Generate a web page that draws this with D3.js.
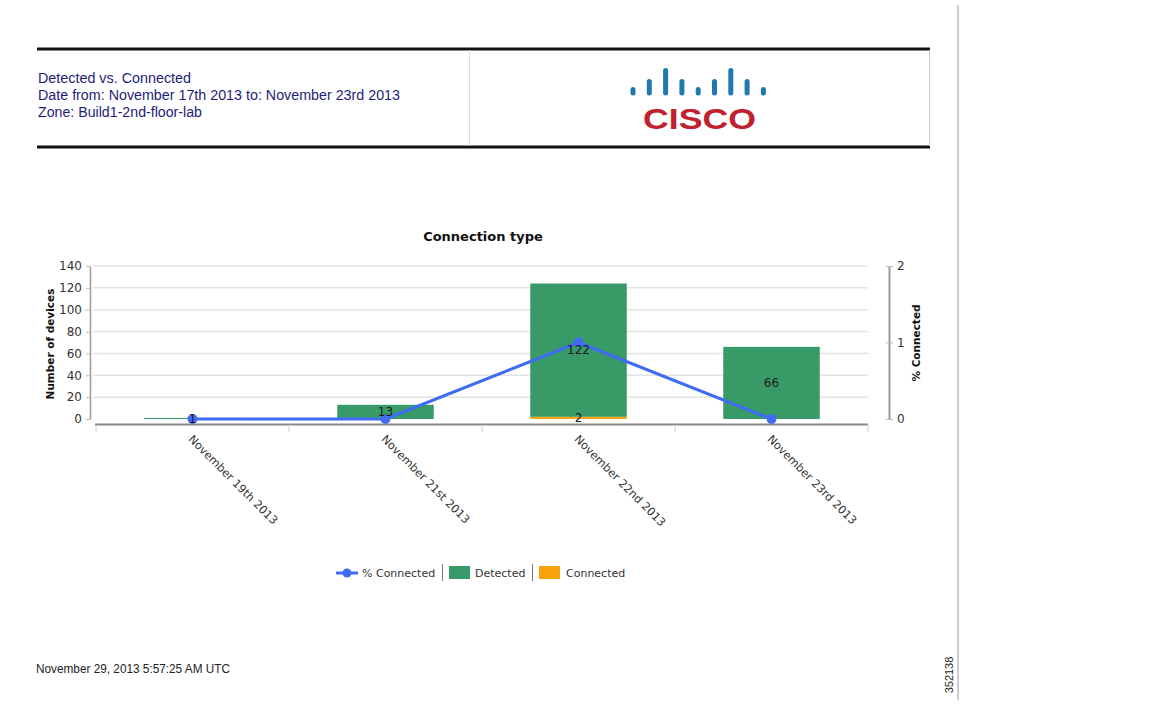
<!DOCTYPE html>
<html>
<head>
<meta charset="utf-8">
<script src="https://cdn.jsdelivr.net/npm/d3@7"></script>
<style>
  html, body { margin: 0; padding: 0; background: #fff; }
  svg { display: block; }
</style>
</head>
<body>
<svg id="chart" width="1163" height="726"></svg>
<script>
// ---- Data ----
const categories = ["November 19th 2013", "November 21st 2013", "November 22nd 2013", "November 23rd 2013"];
const detected = [1, 13, 122, 66];
const connected = [0, 0, 2, 0];
const pctConnected = [0, 0, 1, 0];
const leftTicks = [0, 20, 40, 60, 80, 100, 120, 140];
const rightTicks = [0, 1, 2];
const headerLines = ["Detected vs. Connected", "Date from: November 17th 2013 to: November 23rd 2013", "Zone: Build1-2nd-floor-lab"];
const footerText = "November 29, 2013 5:57:25 AM UTC";
const figureId = "352138";
const chartTitle = "Connection type";
const legendLabels = ["% Connected", "Detected", "Connected"];

// ---- Styles ----
const GREEN = "#389a67", ORANGE = "#f7a30a", BLUE = "#3f6cf2";
const CHART_FONT = "'DejaVu Sans', 'Lucida Grande', sans-serif";
const HDR_FONT = "'Liberation Sans', Arial, sans-serif";

const svg = d3.select("#chart");
svg.append("rect").attr("width", 1163).attr("height", 726).attr("fill", "#fff");

// ---- Page frame / header ----
svg.append("line").attr("x1", 958).attr("x2", 958).attr("y1", 5).attr("y2", 700).attr("stroke", "#9a9a9a").attr("stroke-width", 1);
svg.append("line").attr("x1", 37).attr("x2", 930).attr("y1", 49).attr("y2", 49).attr("stroke", "#111").attr("stroke-width", 3);
svg.append("line").attr("x1", 37).attr("x2", 930).attr("y1", 147).attr("y2", 147).attr("stroke", "#111").attr("stroke-width", 3);
svg.append("line").attr("x1", 469.5).attr("x2", 469.5).attr("y1", 50).attr("y2", 146).attr("stroke", "#ddd").attr("stroke-width", 1);
svg.append("line").attr("x1", 929.5).attr("x2", 929.5).attr("y1", 50).attr("y2", 146).attr("stroke", "#ccc").attr("stroke-width", 1);

const hdrWidths = [153, 362, 164];
svg.append("g").selectAll("text").data(headerLines).join("text")
  .attr("x", 38).attr("y", (d, i) => 83 + i * 17)
  .attr("font-family", HDR_FONT).attr("font-size", 14).attr("fill", "#1d1d78")
  .attr("textLength", (d, i) => hdrWidths[i]).attr("lengthAdjust", "spacingAndGlyphs")
  .text(d => d);

// Cisco logo
const logoBars = [0, 1, 2, 1, 0, 1, 2, 1, 0];
const barTop = [89.5, 81.5, 70.5];
svg.append("g").selectAll("line").data(logoBars).join("line")
  .attr("x1", (d, i) => 633 + i * 16.3).attr("x2", (d, i) => 633 + i * 16.3)
  .attr("y1", d => barTop[d]).attr("y2", 93)
  .attr("stroke", "#1f78ae").attr("stroke-width", 5).attr("stroke-linecap", "round");
svg.append("text").attr("x", 643).attr("y", 129)
  .attr("font-family", "'Liberation Sans', Arial, sans-serif").attr("font-weight", "bold")
  .attr("font-size", 30).attr("fill", "#c1202e")
  .attr("textLength", 113).attr("lengthAdjust", "spacingAndGlyphs")
  .text("CISCO");

// ---- Chart ----
const x = d3.scaleBand().domain(categories).range([96, 868]).paddingInner(0).paddingOuter(0);
const yL = d3.scaleLinear().domain([0, 140]).range([419, 266]);
const yR = d3.scaleLinear().domain([0, 2]).range([419, 266]);
const barW = x.bandwidth() * 0.5;
const cx = d => x(d) + x.bandwidth() / 2;

// title
svg.append("text").attr("x", 483).attr("y", 241).attr("text-anchor", "middle")
  .attr("font-family", CHART_FONT).attr("font-weight", "bold").attr("font-size", 13).attr("fill", "#111")
  .text(chartTitle);

// gridlines
svg.append("g").selectAll("line").data(leftTicks.filter(t => t > 0)).join("line")
  .attr("x1", 93).attr("x2", 868).attr("y1", d => yL(d)).attr("y2", d => yL(d))
  .attr("stroke", "#e4e4e4").attr("stroke-width", 1.5);

// left axis
const gL = svg.append("g").attr("transform", "translate(90,0)")
  .call(d3.axisLeft(yL).tickValues(leftTicks).tickSize(4).tickPadding(4).tickSizeOuter(0));
gL.select(".domain").attr("stroke", "#9a9a9a").attr("stroke-width", 1.5);
gL.selectAll(".tick line").attr("stroke", "#bbb");
gL.selectAll(".tick text").attr("font-family", CHART_FONT).attr("font-size", 12).attr("fill", "#333");

// right axis
const gR = svg.append("g").attr("transform", "translate(889,0)")
  .call(d3.axisRight(yR).tickValues(rightTicks).tickSize(4).tickPadding(4).tickSizeOuter(0).tickFormat(d3.format("d")));
gR.select(".domain").attr("stroke", "#9a9a9a").attr("stroke-width", 2);
gR.selectAll(".tick line").attr("stroke", "#bbb").attr("x1", -3);
gR.selectAll(".tick text").attr("font-family", CHART_FONT).attr("font-size", 12).attr("fill", "#333");

// axis titles
svg.append("text").attr("transform", "translate(54,344) rotate(-90)").attr("text-anchor", "middle")
  .attr("font-family", CHART_FONT).attr("font-weight", "bold").attr("font-size", 10.5).attr("fill", "#111")
  .text("Number of devices");
svg.append("text").attr("transform", "translate(920,343) rotate(-90)").attr("text-anchor", "middle")
  .attr("font-family", CHART_FONT).attr("font-weight", "bold").attr("font-size", 10.5).attr("fill", "#111")
  .text("% Connected");

// bottom axis
svg.append("line").attr("x1", 95).attr("x2", 868).attr("y1", 424.5).attr("y2", 424.5).attr("stroke", "#8a8a8a").attr("stroke-width", 2);
const boundaries = categories.map(c => x(c)).concat([x.range()[1]]);
svg.append("g").selectAll("line").data(boundaries).join("line")
  .attr("x1", d => d).attr("x2", d => d).attr("y1", 425).attr("y2", 432)
  .attr("stroke", "#d0d0d0").attr("stroke-width", 1);

// x labels rotated
svg.append("g").selectAll("text").data(categories).join("text")
  .attr("transform", d => `translate(${cx(d) - 2},${437}) rotate(45)`)
  .attr("dy", "0.35em")
  .attr("font-family", CHART_FONT).attr("font-size", 11.3).attr("fill", "#333")
  .text(d => d);

// bars (stacked: connected bottom, detected on top)
const rows = categories.map((c, i) => ({ c, det: detected[i], con: connected[i], pct: pctConnected[i] }));
svg.append("g").selectAll("rect.con").data(rows.filter(r => r.con > 0)).join("rect")
  .attr("x", r => cx(r.c) - barW / 2).attr("width", barW)
  .attr("y", r => yL(r.con)).attr("height", r => yL(0) - yL(r.con))
  .attr("fill", ORANGE);
svg.append("g").selectAll("rect.det").data(rows).join("rect")
  .attr("x", r => cx(r.c) - barW / 2).attr("width", barW)
  .attr("y", r => yL(r.con + r.det)).attr("height", r => yL(r.con) - yL(r.con + r.det))
  .attr("fill", GREEN);

// line
const line = d3.line().x(r => cx(r.c)).y(r => yR(r.pct));
svg.append("path").datum(rows).attr("d", line).attr("fill", "none")
  .attr("stroke", BLUE).attr("stroke-width", 3).attr("stroke-linejoin", "round");
svg.append("g").selectAll("circle").data(rows).join("circle")
  .attr("cx", r => cx(r.c)).attr("cy", r => yR(r.pct)).attr("r", 5).attr("fill", BLUE);

// value labels
const labelData = [];
rows.forEach(r => {
  if (r.con > 0) labelData.push({ c: r.c, v: r.con, y: (yL(0) + yL(r.con)) / 2 });
  labelData.push({ c: r.c, v: r.det, y: (yL(r.con) + yL(r.con + r.det)) / 2 });
});
svg.append("g").selectAll("text").data(labelData).join("text")
  .attr("x", d => cx(d.c)).attr("y", d => d.y).attr("dy", "0.35em").attr("text-anchor", "middle")
  .attr("font-family", CHART_FONT).attr("font-size", 12).attr("fill", "#1a1a1a")
  .text(d => d.v);

// legend
const lg = svg.append("g").attr("font-family", CHART_FONT).attr("font-size", 11).attr("fill", "#333");
lg.append("line").attr("x1", 336).attr("x2", 358).attr("y1", 573).attr("y2", 573).attr("stroke", BLUE).attr("stroke-width", 3);
lg.append("circle").attr("cx", 347).attr("cy", 573).attr("r", 4.5).attr("fill", BLUE);
lg.append("text").attr("x", 362).attr("y", 573).attr("dy", "0.35em").attr("fill", "#333").text(legendLabels[0]);
lg.append("line").attr("x1", 442.5).attr("x2", 442.5).attr("y1", 564).attr("y2", 581).attr("stroke", "#777").attr("stroke-width", 1);
lg.append("rect").attr("x", 449).attr("y", 566).attr("width", 21).attr("height", 13).attr("fill", GREEN);
lg.append("text").attr("x", 475).attr("y", 573).attr("dy", "0.35em").attr("fill", "#333").text(legendLabels[1]);
lg.append("line").attr("x1", 532.5).attr("x2", 532.5).attr("y1", 564).attr("y2", 581).attr("stroke", "#777").attr("stroke-width", 1);
lg.append("rect").attr("x", 539).attr("y", 566).attr("width", 21).attr("height", 13).attr("fill", ORANGE);
lg.append("text").attr("x", 566).attr("y", 573).attr("dy", "0.35em").attr("fill", "#333").text(legendLabels[2]);

// footer
svg.append("text").attr("x", 36).attr("y", 673)
  .attr("font-family", HDR_FONT).attr("font-size", 12).attr("fill", "#222")
  .attr("textLength", 194).attr("lengthAdjust", "spacingAndGlyphs").text(footerText);
svg.append("text").attr("transform", "translate(953,675) rotate(-90)").attr("text-anchor", "middle")
  .attr("font-family", HDR_FONT).attr("font-size", 11).attr("fill", "#222").text(figureId);
</script>
</body>
</html>
